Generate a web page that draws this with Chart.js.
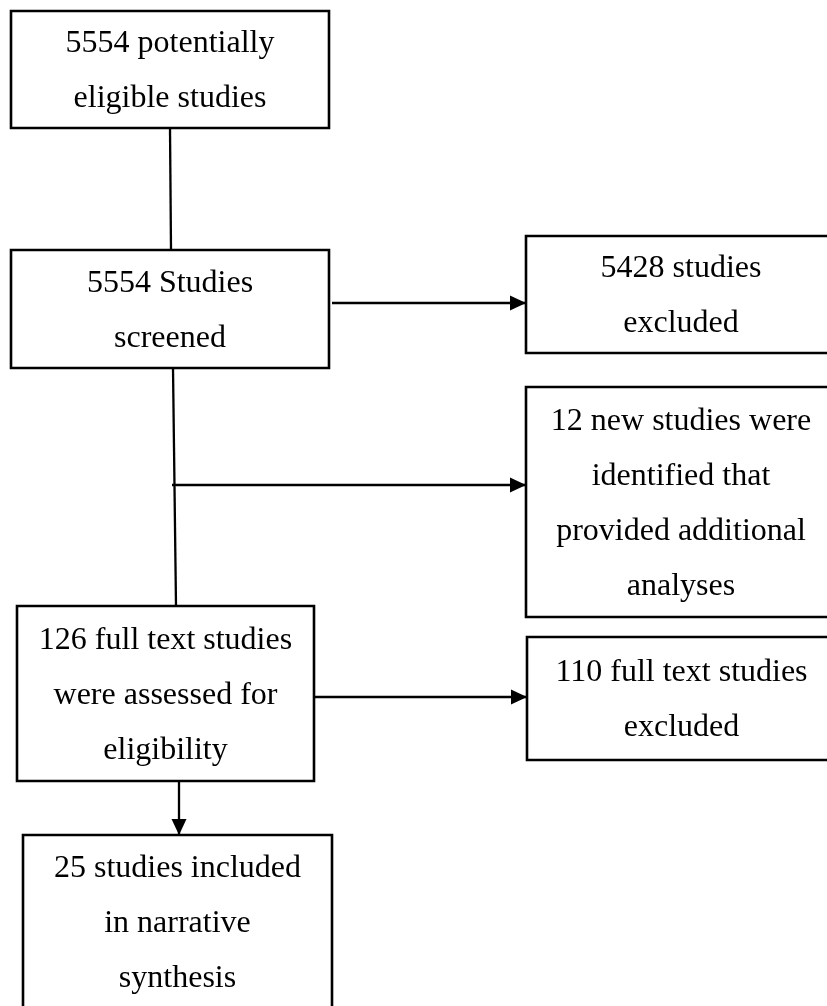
<!DOCTYPE html>
<html>
<head>
<meta charset="utf-8">
<title>Study selection flow</title>
<script src="https://cdn.jsdelivr.net/npm/chart.js@4.4.0/dist/chart.umd.min.js"></script>
<style>
	html, body { margin: 0; padding: 0; background: #fff; }
	canvas { display: block; }
</style>
</head>
<body>
<canvas id="flow" width="827" height="1006"></canvas>
<script>
/* global Chart */

// ── Data (page units: x 0–827 left→right, y 0–1006 top→bottom) ───────────────
var boxLabels = [
	[ '5554 potentially', 'eligible studies' ],
	[ '5554 Studies', 'screened' ],
	[ '5428 studies', 'excluded' ],
	[ '12 new studies were', 'identified that', 'provided additional', 'analyses' ],
	[ '126 full text studies', 'were assessed for', 'eligibility' ],
	[ '110 full text studies', 'excluded' ],
	[ '25 studies included', 'in narrative', 'synthesis' ]
];
var boxLeft   = [ 11,  11,  526, 526, 17,  527, 23   ];
var boxRight  = [ 329, 329, 836, 836, 314, 836, 332  ];
var boxTop    = [ 11,  250, 236, 387, 606, 637, 835  ];
var boxBottom = [ 128, 368, 353, 617, 781, 760, 1009 ];

var linkFromX = [ 170, 173, 332, 172, 314, 179 ];
var linkFromY = [ 128, 368, 303, 485, 697, 781 ];
var linkToX   = [ 171, 176, 526, 526, 527, 179 ];
var linkToY   = [ 250, 606, 303, 485, 697, 835 ];
var linkArrow = [ false, false, true, true, true, true ];

( function () {
	'use strict';

	var INK       = '#000';
	var FONT      = '32px "Liberation Serif", "Times New Roman", serif';
	var LINE_GAP  = 55;
	var HEAD_LEN  = 16;
	var HEAD_HALF = 7.5;

	// ── Datasets: boxes as closed outlines, links as plain segments ──────────
	var datasets = [];

	boxLabels.forEach( function ( lines, i ) {
		datasets.push( {
			label          : lines.join( ' ' ),
			data           : [
				{ x: boxLeft[ i ],  y: boxTop[ i ] },
				{ x: boxRight[ i ], y: boxTop[ i ] },
				{ x: boxRight[ i ], y: boxBottom[ i ] },
				{ x: boxLeft[ i ],  y: boxBottom[ i ] },
				{ x: boxLeft[ i ],  y: boxTop[ i ] }
			],
			showLine       : true,
			borderColor    : INK,
			borderWidth    : 2.6,
			borderCapStyle : 'square',
			borderJoinStyle: 'miter',
			pointRadius    : 0,
			tension        : 0
		} );
	} );

	linkFromX.forEach( function ( x0, i ) {
		datasets.push( {
			label       : 'link ' + i,
			data        : [
				{ x: x0,             y: linkFromY[ i ] },
				{ x: linkToX[ i ],   y: linkToY[ i ] }
			],
			showLine    : true,
			borderColor : INK,
			borderWidth : 2.3,
			pointRadius : 0,
			tension     : 0
		} );
	} );

	// ── Plugin: box text and arrowheads, placed through the scales ───────────
	var flowDecor = {
		id : 'flowDecor',
		afterDatasetsDraw : function ( chart ) {
			var ctx = chart.ctx;
			var sx  = chart.scales.x;
			var sy  = chart.scales.y;

			ctx.save();
			ctx.fillStyle    = INK;
			ctx.font         = FONT;
			ctx.textAlign    = 'center';
			ctx.textBaseline = 'middle';

			boxLabels.forEach( function ( lines, i ) {
				var cx  = sx.getPixelForValue( ( boxLeft[ i ] + boxRight[ i ] ) / 2 );
				var cy  = sy.getPixelForValue( ( boxTop[ i ] + boxBottom[ i ] ) / 2 );
				var top = cy - ( lines.length - 1 ) * LINE_GAP / 2;
				lines.forEach( function ( txt, k ) {
					ctx.fillText( txt, cx, top + k * LINE_GAP + 2 );
				} );
			} );

			linkArrow.forEach( function ( hasHead, i ) {
				if ( ! hasHead ) { return; }
				var x0 = sx.getPixelForValue( linkFromX[ i ] );
				var y0 = sy.getPixelForValue( linkFromY[ i ] );
				var x1 = sx.getPixelForValue( linkToX[ i ] );
				var y1 = sy.getPixelForValue( linkToY[ i ] );
				var a  = Math.atan2( y1 - y0, x1 - x0 );
				var bx = x1 - HEAD_LEN * Math.cos( a );
				var by = y1 - HEAD_LEN * Math.sin( a );
				ctx.beginPath();
				ctx.moveTo( x1, y1 );
				ctx.lineTo( bx + HEAD_HALF * Math.sin( a ), by - HEAD_HALF * Math.cos( a ) );
				ctx.lineTo( bx - HEAD_HALF * Math.sin( a ), by + HEAD_HALF * Math.cos( a ) );
				ctx.closePath();
				ctx.fill();
			} );

			ctx.restore();
		}
	};

	new Chart( document.getElementById( 'flow' ).getContext( '2d' ), {
		type    : 'scatter',
		data    : { datasets: datasets },
		options : {
			responsive : false,
			animation  : false,
			layout     : { padding: 0 },
			plugins    : {
				legend  : { display: false },
				tooltip : { enabled: false }
			},
			scales : {
				x : { type: 'linear', min: 0, max: 827,  display: false },
				y : { type: 'linear', min: 0, max: 1006, reverse: true, display: false }
			}
		},
		plugins : [ flowDecor ]
	} );
}() );
</script>
</body>
</html>
